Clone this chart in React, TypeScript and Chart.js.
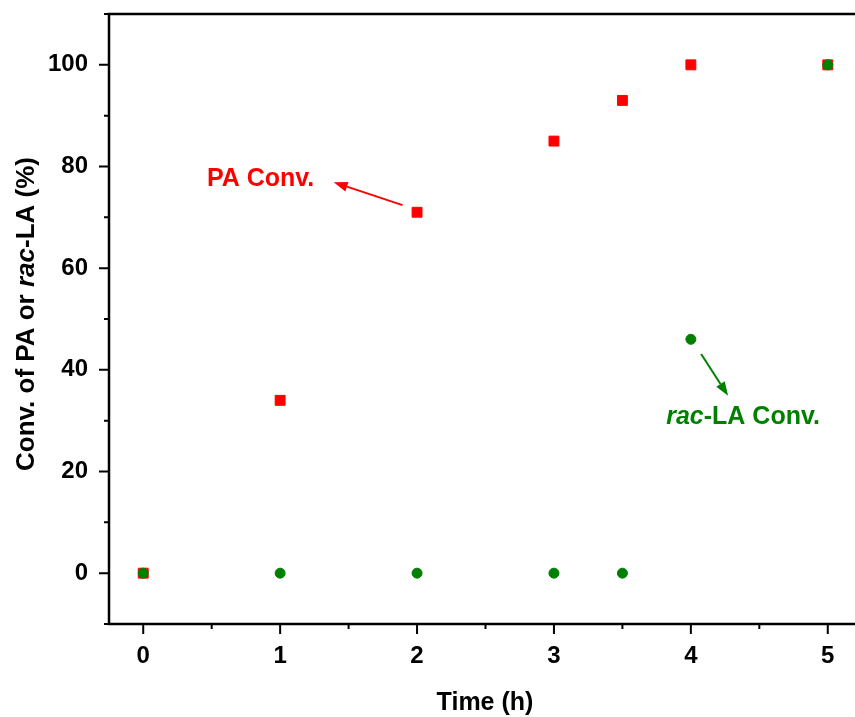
import React, { useEffect, useRef } from "react";
import { Chart, registerables } from "chart.js";

Chart.register(...registerables);

// ---- data ----
const times = [0, 1, 2, 3, 3.5, 4, 5];
const paConv = [0, 34, 71, 85, 93, 100, 100];
const laConv = [0, 0, 0, 0, 0, 46, 100];
const xTickLabels = [0, 1, 2, 3, 4, 5];
const yTickLabels = [0, 20, 40, 60, 80, 100];
const xMinorTicks = [0.5, 1.5, 2.5, 3.5, 4.5];
const yMinorTicks = [-10, 10, 30, 50, 70, 90, 110];
const xTitle = "Time (h)";
const yTitleParts = [
  { text: "Conv. of PA or ", italic: false },
  { text: "rac", italic: true },
  { text: "-LA (%)", italic: false },
];
const paLabel = [{ text: "PA Conv.", italic: false }];
const laLabel = [
  { text: "rac", italic: true },
  { text: "-LA Conv.", italic: false },
];
// annotation anchors in data coordinates
const paLabelPos = { x: 0.465, y: 76.2 };
const paArrow = { from: { x: 1.894, y: 72.4 }, to: { x: 1.391, y: 76.9 } };
const laLabelPos = { x: 3.82, y: 29.4 };
const laArrow = { from: { x: 4.075, y: 43.1 }, to: { x: 4.272, y: 34.9 } };

const RED = "#ff0000";
const GREEN = "#008000";
const FONT = "'Liberation Sans', Arial, sans-serif";

function drawParts(ctx: CanvasRenderingContext2D, parts: { text: string; italic: boolean }[], x: number, y: number, size: number, align: "left" | "center") {
  const fontFor = (it: boolean) => `${it ? "italic " : ""}bold ${size}px ${FONT}`;
  let total = 0;
  for (const p of parts) {
    ctx.font = fontFor(p.italic);
    total += ctx.measureText(p.text).width;
  }
  let cx = align === "center" ? x - total / 2 : x;
  ctx.textAlign = "left";
  ctx.textBaseline = "alphabetic";
  for (const p of parts) {
    ctx.font = fontFor(p.italic);
    ctx.fillText(p.text, cx, y);
    cx += ctx.measureText(p.text).width;
  }
}

function drawArrow(ctx: CanvasRenderingContext2D, x1: number, y1: number, x2: number, y2: number, color: string) {
  const ang = Math.atan2(y2 - y1, x2 - x1);
  const headLen = 14;
  const headHalf = 5;
  const bx = x2 - headLen * Math.cos(ang);
  const by = y2 - headLen * Math.sin(ang);
  ctx.save();
  ctx.strokeStyle = color;
  ctx.fillStyle = color;
  ctx.lineWidth = 2;
  ctx.beginPath();
  ctx.moveTo(x1, y1);
  ctx.lineTo(bx, by);
  ctx.stroke();
  ctx.beginPath();
  ctx.moveTo(x2, y2);
  ctx.lineTo(bx + headHalf * Math.sin(ang), by - headHalf * Math.cos(ang));
  ctx.lineTo(bx - headHalf * Math.sin(ang), by + headHalf * Math.cos(ang));
  ctx.closePath();
  ctx.fill();
  ctx.restore();
}

const framePlugin = {
  id: "frame",
  afterDraw(chart: any) {
    const ctx: CanvasRenderingContext2D = chart.ctx;
    const { left, right, top, bottom } = chart.chartArea;
    const xs = chart.scales.x;
    const ys = chart.scales.y;
    ctx.save();
    ctx.strokeStyle = "#000";
    ctx.lineWidth = 2.5;
    ctx.lineCap = "butt";
    // axis lines (left, bottom, top)
    ctx.beginPath();
    ctx.moveTo(left, top - 1.25);
    ctx.lineTo(left, bottom + 1.25);
    ctx.moveTo(left - 1.25, bottom);
    ctx.lineTo(right, bottom);
    ctx.moveTo(left - 1.25, top);
    ctx.lineTo(right, top);
    ctx.stroke();
    // ticks
    ctx.lineWidth = 2;
    ctx.beginPath();
    for (const v of xTickLabels) {
      const px = xs.getPixelForValue(v);
      ctx.moveTo(px, bottom);
      ctx.lineTo(px, bottom + 10);
    }
    for (const v of xMinorTicks) {
      const px = xs.getPixelForValue(v);
      ctx.moveTo(px, bottom);
      ctx.lineTo(px, bottom + 5);
    }
    for (const v of yTickLabels) {
      const py = ys.getPixelForValue(v);
      ctx.moveTo(left, py);
      ctx.lineTo(left - 10, py);
    }
    for (const v of yMinorTicks) {
      const py = ys.getPixelForValue(v);
      ctx.moveTo(left, py);
      ctx.lineTo(left - 5, py);
    }
    ctx.stroke();

    // axis titles
    ctx.fillStyle = "#000";
    drawParts(ctx, [{ text: xTitle, italic: false }], 485, 710, 25, "center");
    ctx.save();
    ctx.translate(34, 314);
    ctx.rotate(-Math.PI / 2);
    drawParts(ctx, yTitleParts, 0, 0, 26, "center");
    ctx.restore();

    // annotations
    ctx.fillStyle = RED;
    drawParts(ctx, paLabel, xs.getPixelForValue(paLabelPos.x), ys.getPixelForValue(paLabelPos.y), 25, "left");
    drawArrow(ctx, xs.getPixelForValue(paArrow.from.x), ys.getPixelForValue(paArrow.from.y), xs.getPixelForValue(paArrow.to.x), ys.getPixelForValue(paArrow.to.y), RED);
    ctx.fillStyle = GREEN;
    drawParts(ctx, laLabel, xs.getPixelForValue(laLabelPos.x), ys.getPixelForValue(laLabelPos.y), 25, "left");
    drawArrow(ctx, xs.getPixelForValue(laArrow.from.x), ys.getPixelForValue(laArrow.from.y), xs.getPixelForValue(laArrow.to.x), ys.getPixelForValue(laArrow.to.y), GREEN);
    ctx.restore();
  },
};

export default function App() {
  const canvasRef = useRef<HTMLCanvasElement>(null);

  useEffect(() => {
    document.body.style.margin = "0";
    const canvas = canvasRef.current;
    if (!canvas) return;
    const chart = new Chart(canvas, {
      type: "scatter",
      data: {
        datasets: [
          {
            label: "rac-LA Conv.",
            data: times.map((t, i) => ({ x: t, y: laConv[i] })),
            pointStyle: "circle",
            pointRadius: 5,
            borderWidth: 1,
            backgroundColor: GREEN,
            borderColor: GREEN,
            showLine: false,
          },
          {
            label: "PA Conv.",
            data: times.map((t, i) => ({ x: t, y: paConv[i] })),
            pointStyle: "rect",
            pointRadius: 7,
            borderWidth: 1,
            backgroundColor: RED,
            borderColor: RED,
            showLine: false,
          },
        ],
      },
      options: {
        responsive: false,
        animation: false,
        devicePixelRatio: 1,
        layout: { padding: { top: 14, right: 7, left: 0, bottom: 0 } },
        plugins: { legend: { display: false }, tooltip: { enabled: false } },
        scales: {
          x: {
            type: "linear",
            min: -0.25,
            max: 5.25,
            grid: { display: false, drawTicks: false },
            border: { display: false },
            afterBuildTicks: (axis: any) => {
              axis.ticks = xTickLabels.map((value) => ({ value }));
            },
            afterFit: (axis: any) => {
              axis.height = 93;
              axis.paddingLeft = 0;
              axis.paddingRight = 0;
              axis.paddingTop = 0;
              axis.paddingBottom = 0;
            },
            ticks: {
              padding: 18,
              color: "#000",
              maxRotation: 0,
              autoSkip: false,
              font: { family: FONT, size: 24, weight: "bold" },
            },
          },
          y: {
            type: "linear",
            min: -10,
            max: 110,
            grid: { display: false, drawTicks: false },
            border: { display: false },
            afterBuildTicks: (axis: any) => {
              axis.ticks = yTickLabels.map((value) => ({ value }));
            },
            afterFit: (axis: any) => {
              axis.width = 109;
              axis.paddingLeft = 0;
              axis.paddingRight = 0;
              axis.paddingTop = 0;
              axis.paddingBottom = 0;
            },
            ticks: {
              padding: 21,
              color: "#000",
              autoSkip: false,
              font: { family: FONT, size: 24, weight: "bold" },
            },
          },
        },
      },
      plugins: [framePlugin],
    } as any);
    return () => chart.destroy();
  }, []);

  return (
    <div style={{ width: 855, height: 717, overflow: "hidden", position: "relative", background: "#fff" }}>
      <canvas ref={canvasRef} width={870} height={717} style={{ display: "block" }} />
    </div>
  );
}
